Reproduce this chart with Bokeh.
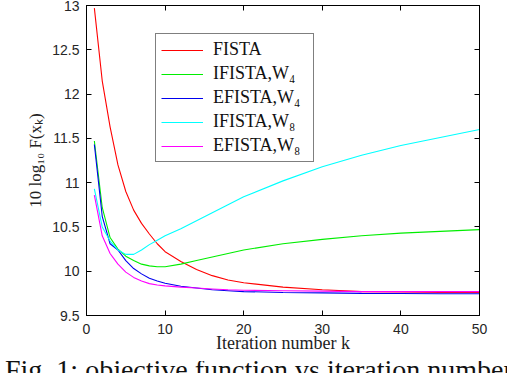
from bokeh.plotting import figure
from bokeh.models import (Range1d, FixedTicker, LinearAxis, Legend, LegendItem, Div)
from bokeh.layouts import column
from bokeh.embed import file_html
from bokeh.resources import INLINE

# ---- data ----
k = [1, 2, 3, 4, 5, 6, 7, 8, 9, 10, 12, 14, 16, 18, 20, 25, 30, 35, 40, 45, 50]
fista = [12.97, 12.15, 11.63, 11.2, 10.9, 10.69, 10.54, 10.42, 10.31, 10.22,
         10.11, 10.02, 9.95, 9.9, 9.87, 9.82, 9.79, 9.77, 9.765, 9.76, 9.76]
ifista_w4 = [11.47, 10.72, 10.38, 10.25, 10.17, 10.12, 10.08, 10.06, 10.05, 10.05,
             10.08, 10.12, 10.16, 10.2, 10.24, 10.31, 10.36, 10.4, 10.43, 10.45, 10.47]
efista_w4 = [11.43, 10.62, 10.31, 10.24, 10.12, 10.03, 9.97, 9.92, 9.89, 9.865,
             9.83, 9.81, 9.79, 9.78, 9.77, 9.76, 9.755, 9.75, 9.748, 9.746, 9.745]
ifista_w8 = [10.93, 10.5, 10.34, 10.24, 10.19, 10.19, 10.24, 10.3, 10.35, 10.4,
             10.48, 10.57, 10.66, 10.75, 10.84, 11.02, 11.18, 11.31, 11.42, 11.51, 11.6]
efista_w8 = [10.86, 10.4, 10.2, 10.08, 9.99, 9.93, 9.89, 9.86, 9.845, 9.835,
             9.82, 9.81, 9.8, 9.79, 9.785, 9.78, 9.775, 9.77, 9.77, 9.77, 9.77]

series_names = ["FISTA", "IFISTA,W\u2084", "EFISTA,W\u2084", "IFISTA,W\u2088", "EFISTA,W\u2088"]
series_vals = [fista, ifista_w4, efista_w4, ifista_w8, efista_w8]
series_colors = ["#ff0000", "#00ee00", "#0000ee", "#00ffff", "#ff00ff"]

x_ticks = [0, 10, 20, 30, 40, 50]
y_ticks = [9.5, 10, 10.5, 11, 11.5, 12, 12.5, 13]
y_tick_labels = ["9.5", "10", "10.5", "11", "11.5", "12", "12.5", "13"]

x_label = "Iteration number k"
y_label = "10 log\u2081\u2080 F(x\u2096)"
caption = "Fig. 1: objective function vs iteration number"

TICK_FONT = "Liberation Sans"
SERIF = "Liberation Serif"
TICK_COLOR = "#262626"

p = figure(width=502, height=356, output_backend="svg", toolbar_location=None,
           x_range=Range1d(0, 50), y_range=Range1d(9.5, 13),
           min_border_left=86, min_border_right=23, min_border_top=5,
           min_border_bottom=41)
p.background_fill_color = "white"
p.border_fill_color = "white"
p.outline_line_color = "black"
p.outline_line_width = 1
p.xgrid.visible = False
p.ygrid.visible = False

renderers = []
for vals, col in zip(series_vals, series_colors):
    r = p.line(k, vals, line_color=col, line_width=1.1)
    renderers.append(r)

def style_axis(ax, ticks):
    ax.ticker = FixedTicker(ticks=ticks)
    ax.axis_line_color = "black"
    ax.major_tick_line_color = "black"
    ax.major_tick_in = 5
    ax.major_tick_out = 0
    ax.minor_tick_line_color = None
    ax.major_label_text_font = TICK_FONT
    ax.major_label_text_font_size = "14px"
    ax.major_label_text_color = TICK_COLOR

xa = p.xaxis[0]
style_axis(xa, x_ticks)
xa.major_label_standoff = 8
xa.axis_label = x_label
xa.axis_label_text_font = SERIF
xa.axis_label_text_font_size = "18px"
xa.axis_label_text_font_style = "normal"
xa.axis_label_text_color = "#222222"
xa.axis_label_standoff = -4

ya = p.yaxis[0]
style_axis(ya, y_ticks)
ya.major_label_overrides = {t: s for t, s in zip(y_ticks, y_tick_labels)}
ya.major_label_standoff = 7
ya.axis_label = y_label
ya.axis_label_text_font = SERIF
ya.axis_label_text_font_size = "17px"
ya.axis_label_text_font_style = "normal"
ya.axis_label_text_color = "#222222"
ya.axis_label_standoff = 4

# mirror ticks on top and right (no labels drawn)
top_ax = LinearAxis()
style_axis(top_ax, x_ticks)
top_ax.major_label_text_font_size = "0px"
top_ax.major_label_text_color = None
top_ax.major_label_standoff = 0
p.add_layout(top_ax, "above")
right_ax = LinearAxis()
style_axis(right_ax, y_ticks)
right_ax.major_label_text_font_size = "0px"
right_ax.major_label_text_color = None
right_ax.major_label_standoff = 0
p.add_layout(right_ax, "right")

legend = Legend(items=[LegendItem(label=n, renderers=[r]) for n, r in zip(series_names, renderers)],
                location=(69, 153))
legend.border_line_color = "black"
legend.border_line_width = 1
legend.background_fill_color = "white"
legend.background_fill_alpha = 1
legend.label_text_font = SERIF
legend.label_text_font_size = "18px"
legend.label_text_color = "#111111"
legend.glyph_width = 42
legend.glyph_height = 20
legend.label_height = 20
legend.label_width = 95
legend.spacing = 3
legend.padding = 5
legend.margin = 0
legend.label_standoff = 10
p.add_layout(legend, "center")

cap = Div(text=caption, width=502, height=12,
          styles={"font-family": SERIF, "font-size": "28px", "line-height": "18px",
                  "color": "#111111", "overflow": "hidden", "white-space": "nowrap"})

layout = column(p, cap, spacing=0)
open("out.html", "w").write(file_html(layout, INLINE))
